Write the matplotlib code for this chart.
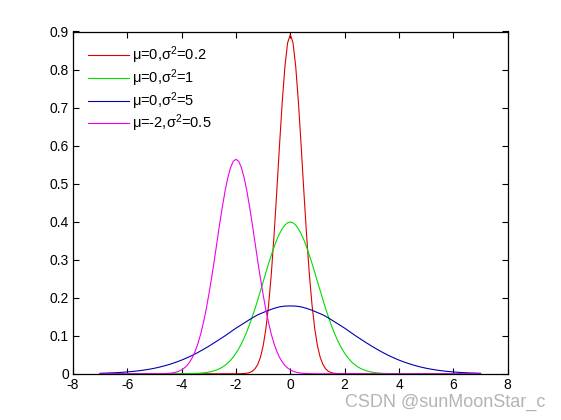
import numpy as np
import matplotlib
matplotlib.use("Agg")
import matplotlib.pyplot as plt

plt.rcParams['font.family'] = ['Liberation Sans', 'DejaVu Sans']
plt.rcParams['mathtext.fontset'] = 'custom'
plt.rcParams['mathtext.rm'] = 'Liberation Sans'
plt.rcParams['mathtext.it'] = 'Liberation Sans'

# fine x grid (-7 .. 7, step 0.1) and coarse grid (step 0.2) for the wide curve
x_fine = np.round(np.linspace(-7, 7, 141), 2)
x_blue = np.round(np.linspace(-7, 7, 71), 2)

red_half = [0.0001, 0.0003, 0.00065, 0.0015, 0.0032, 0.0066, 0.0131, 0.0244, 0.0433, 0.0732,
            0.1178, 0.180, 0.262, 0.363, 0.4775, 0.598, 0.712, 0.807, 0.870]
y_red = [0.0] * 51 + red_half + [0.892] + red_half[::-1] + [0.0] * 51

green_half = [0.0002, 0.0003, 0.0004, 0.0006, 0.0009, 0.0012, 0.0017, 0.0024, 0.0033, 0.0044,
              0.0060, 0.0079, 0.0104, 0.0136, 0.0175, 0.0224, 0.0283, 0.0355, 0.044, 0.054,
              0.0656, 0.079, 0.094, 0.111, 0.1295, 0.150, 0.171, 0.194, 0.218, 0.242,
              0.266, 0.290, 0.312, 0.333, 0.352, 0.368, 0.381, 0.391, 0.397]
y_green = [0.0] * 31 + green_half + [0.399] + green_half[::-1] + [0.0] * 31

blue_half = [0.0013, 0.0018, 0.0023, 0.0030, 0.0038, 0.0049, 0.0062, 0.0077, 0.0097, 0.0119,
             0.0146, 0.0178, 0.0215, 0.0258, 0.0306, 0.0360, 0.0421, 0.0488, 0.0561, 0.0641,
             0.0725, 0.0815, 0.0907, 0.100, 0.110, 0.120, 0.129, 0.138, 0.147, 0.155,
             0.161, 0.167, 0.172, 0.176, 0.178]
y_blue = blue_half + [0.1784] + blue_half[::-1]

mag_half = [0.0001, 0.0002, 0.0004, 0.0007, 0.0011, 0.0018, 0.0028, 0.0045, 0.0069, 0.0103,
            0.0153, 0.0221, 0.0314, 0.0436, 0.0595, 0.0795, 0.1041, 0.134, 0.168, 0.208,
            0.251, 0.297, 0.3456, 0.394, 0.4394, 0.481, 0.5156, 0.542, 0.5586]
y_mag = [0.0] * 21 + mag_half + [0.564] + mag_half[::-1] + [0.0] * 61

labels = [r'μ=0,σ$^2$=0.2', r'μ=0,σ$^2$=1', r'μ=0,σ$^2$=5', r'μ=-2,σ$^2$=0.5']
colors = ['#dd0000', '#00dd00', '#0000b0', '#ee00ee']

xticks = [-8, -6, -4, -2, 0, 2, 4, 6, 8]
yticks = [0, 0.1, 0.2, 0.3, 0.4, 0.5, 0.6, 0.7, 0.8, 0.9]
ytick_labels = ['0', '0.1', '0.2', '0.3', '0.4', '0.5', '0.6', '0.7', '0.8', '0.9']

fig = plt.figure(figsize=(5.61, 4.2), dpi=100)
ax = fig.add_axes([0.13, 0.11, 0.775, 0.815])

series = [(x_fine, y_red), (x_fine, y_green), (x_blue, y_blue), (x_fine, y_mag)]
for (xs, ys), lab, c in zip(series, labels, colors):
    ax.plot(xs, ys, color=c, lw=0.8, label=lab)

ax.set_xlim(-8, 8)
ax.set_ylim(0, 0.9)
ax.set_xticks(xticks)
ax.set_xticklabels([str(t) for t in xticks])
ax.set_yticks(yticks)
ax.set_yticklabels(ytick_labels)
ax.tick_params(direction='in', length=4, width=0.8, top=True, right=True, labelsize=10, pad=3)
for s in ax.spines.values():
    s.set_linewidth(0.9)

leg = ax.legend(loc='upper left', frameon=False, fontsize=10.5, handlelength=2.8,
                handletextpad=0.25, labelspacing=0.08, borderaxespad=0.0, borderpad=0.0,
                bbox_to_anchor=(0.034, 0.962))

fig.text(0.972, 0.042, 'CSDN @sunMoonStar_c', color='#b4b4b4', fontsize=13,
         ha='right', va='center')

fig.savefig('out.png', dpi=100, facecolor='white')
